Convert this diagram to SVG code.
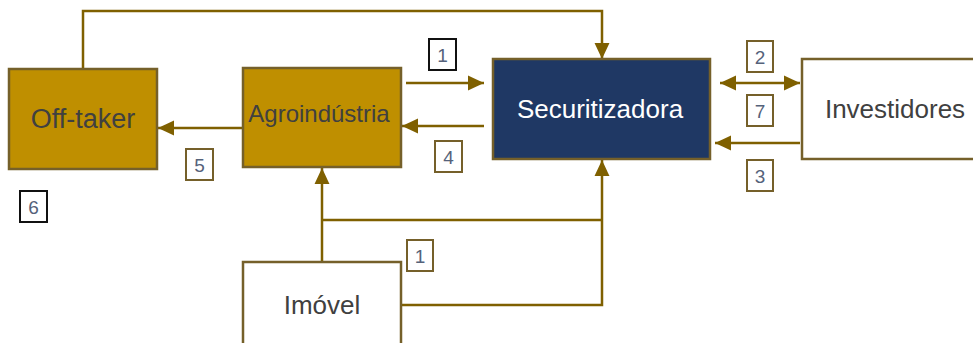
<svg xmlns="http://www.w3.org/2000/svg" width="973" height="343" viewBox="0 0 973 343">
<style>
.node{stroke:#75602a;stroke-width:2.5}
.gold{fill:#BF8F00}
.navy{fill:#1F3864}
.white{fill:#ffffff}
.t{font-family:"Liberation Sans",Arial,sans-serif;text-anchor:middle;fill:#404040}
.tw{fill:#ffffff}
.conn{fill:none;stroke:#7F6000;stroke-width:2.5}
.lbl rect{fill:#ffffff;stroke:#75602a;stroke-width:2}
.lbl.dark rect{stroke:#111111}
.lbl text{font-family:"Liberation Sans",Arial,sans-serif;font-size:19px;text-anchor:middle;fill:#55627a}
</style>
<defs>
<marker id="ah" markerUnits="userSpaceOnUse" markerWidth="16" markerHeight="16" viewBox="0 0 15 14" refX="15" refY="7" orient="auto-start-reverse">
<path d="M0,0 L15,7 L0,14 Z" fill="#7F6000"/>
</marker>
</defs>
<rect width="973" height="343" fill="#ffffff"/>
<g id="connectors">
<path class="conn" d="M83,69 V11 H602 V59" marker-end="url(#ah)"/>
<path class="conn" d="M406,83 H484" marker-end="url(#ah)"/>
<path class="conn" d="M484,126 H402" marker-end="url(#ah)"/>
<path class="conn" d="M243,128 H158" marker-end="url(#ah)"/>
<path class="conn" d="M720,83 H800" marker-start="url(#ah)" marker-end="url(#ah)"/>
<path class="conn" d="M800,143 H715" marker-end="url(#ah)"/>
<path class="conn" d="M322,262 V168" marker-end="url(#ah)"/>
<path class="conn" d="M322,220 H602"/>
<path class="conn" d="M401,305 H602 V160" marker-end="url(#ah)"/>
</g>
<g id="offtaker">
<rect class="node gold" x="9" y="69" width="148" height="100"/>
<text class="t" x="83" y="128" font-size="27">Off-taker</text>
</g>
<g id="agroindustria">
<rect class="node gold" x="243" y="68" width="158" height="99"/>
<text class="t" x="319" y="122" font-size="24">Agroindústria</text>
</g>
<g id="securitizadora">
<rect class="node navy" x="493" y="59" width="217" height="100"/>
<text class="t tw" x="600" y="118" font-size="26">Securitizadora</text>
</g>
<g id="investidores">
<rect class="node white" x="802" y="59" width="180" height="100"/>
<text class="t" x="895" y="118" font-size="26">Investidores</text>
</g>
<g id="imovel">
<rect class="node white" x="243" y="262" width="158" height="100"/>
<text class="t" x="322" y="314" font-size="26">Imóvel</text>
</g>
<g id="labels">
<g class="lbl dark"><rect x="429" y="39" width="27" height="31"/><text x="442.5" y="61.5">1</text></g>
<g class="lbl"><rect x="435" y="141" width="27" height="31"/><text x="448.5" y="163.5">4</text></g>
<g class="lbl"><rect x="186" y="149" width="27" height="31"/><text x="199.5" y="171.5">5</text></g>
<g class="lbl dark"><rect x="20" y="191" width="27" height="31"/><text x="33.5" y="213.5">6</text></g>
<g class="lbl"><rect x="747" y="41" width="26" height="31"/><text x="760" y="63.5">2</text></g>
<g class="lbl"><rect x="747" y="95" width="26" height="31"/><text x="760" y="117.5">7</text></g>
<g class="lbl"><rect x="747" y="160" width="26" height="31"/><text x="760" y="182.5">3</text></g>
<g class="lbl"><rect x="407" y="240" width="26" height="31"/><text x="420" y="262.5">1</text></g>
</g>
</svg>
